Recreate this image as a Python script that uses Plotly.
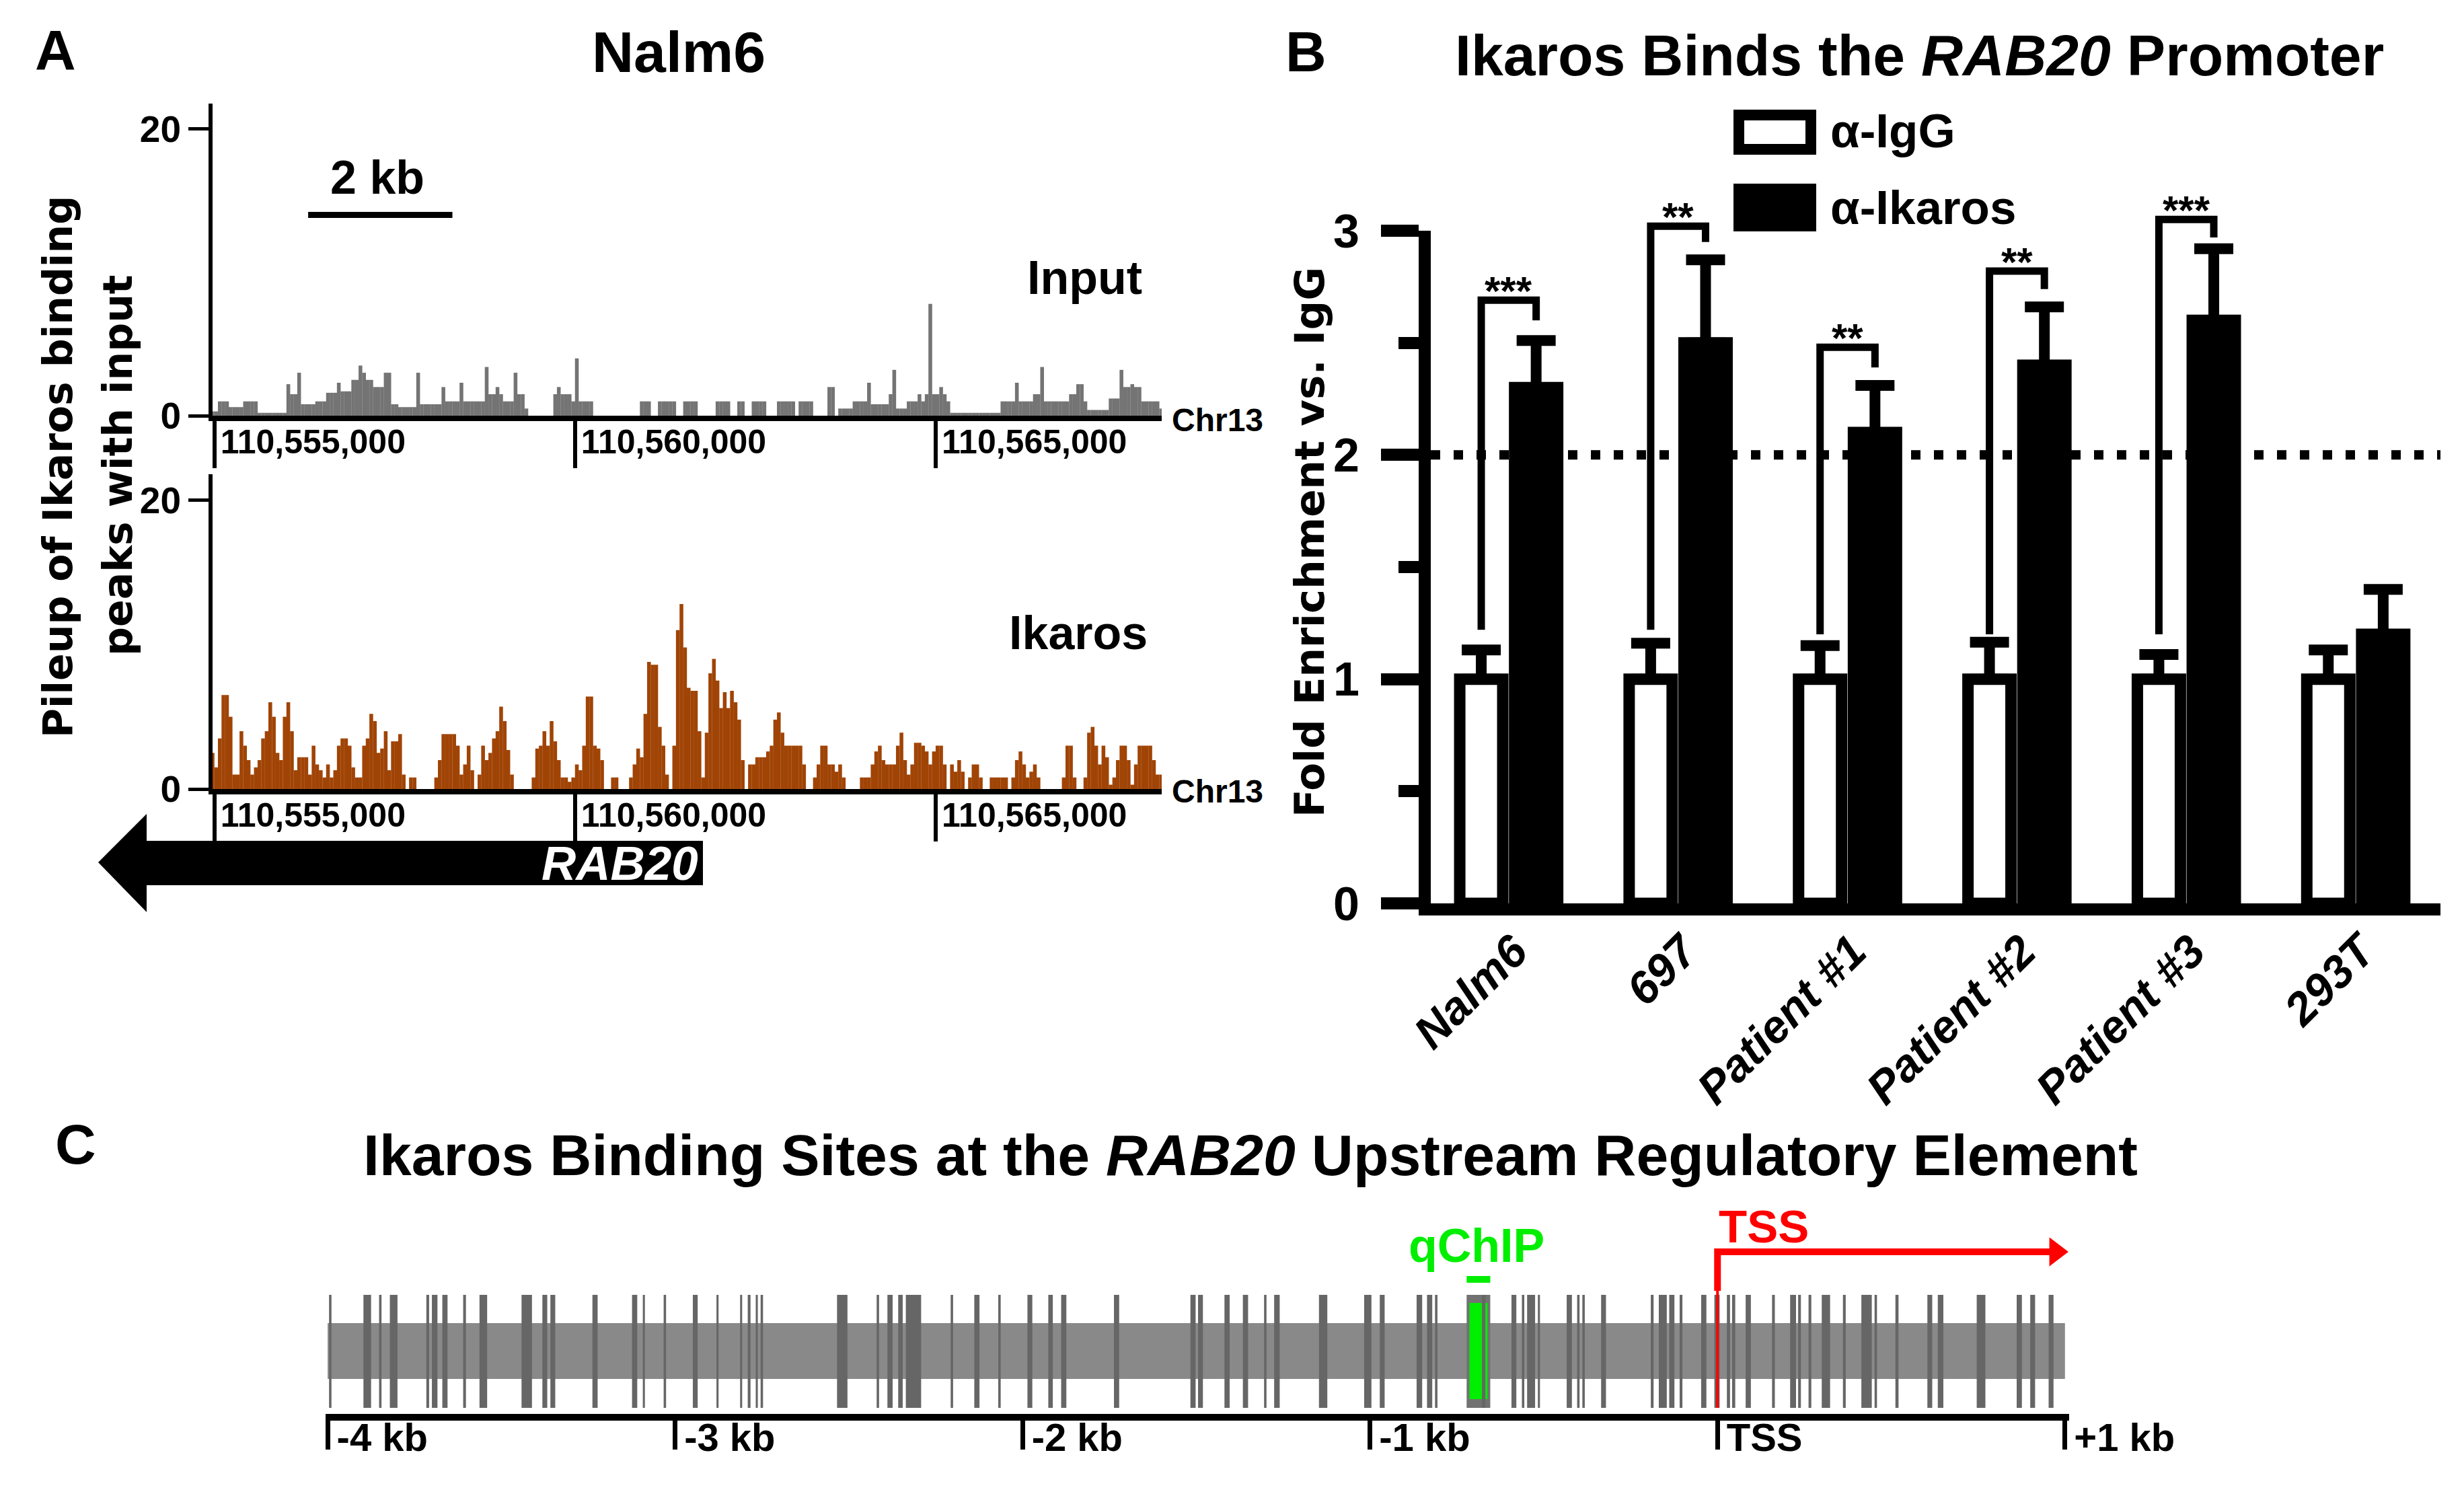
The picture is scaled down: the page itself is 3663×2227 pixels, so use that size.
import plotly.graph_objects as go

W, H = 3663, 2227
OFF = 8                      # default page body margin of the written html
FW, FH = W - 2 * OFF, H - 2 * OFF
def px(x): return (x - OFF) / FW
def py(y): return 1 - (y - OFF) / FH

FONT = "Liberation Sans"
WIDE = "DejaVu Sans"

# ---------------- Panel A : pileup tracks (50 bp bins) ----------------
TRACK_START = 110554950
BIN_BP = 50
TRACK_RANGE = [110554975, 110568133]
GENOME_TICKS = [110555000, 110560000, 110565000]
GENOME_TICK_TEXT = ["110,555,000", "110,560,000", "110,565,000"]
PILEUP_TICKS = [0, 20]
SCALE_BAR_BP = [110556300, 110558300]

INPUT_PILEUP = [
    0.3, 0.3, 1, 1, 1, 0.6, 0.6, 0.6, 0.6, 1,
    1, 1, 1, 0.2, 0.2, 0.2, 0.2, 0.2, 0.2, 0.2,
    0.2, 2.2, 1.5, 1.5, 3, 0.8, 0.8, 0.8, 0.8, 1,
    1, 1, 1.6, 1.6, 1.6, 2.3, 1.7, 1.7, 1.7, 2.5,
    2.5, 3.5, 3, 2.5, 2.5, 2, 2, 2, 3, 3,
    0.8, 0.8, 0.6, 0.6, 0.6, 0.6, 0.6, 3, 0.8, 0.8,
    0.8, 0.8, 0.8, 0.8, 2, 1, 1, 1, 1, 2.3,
    1, 1, 1, 1, 1, 1, 3.4, 1.5, 1.5, 2,
    1.5, 1, 1, 1, 3, 1.5, 1.5, 0.5, 0, 0,
    0, 0, 0, 0, 0, 1.5, 2, 1.5, 1.5, 1.5,
    1, 4, 1, 1, 1, 1, 0, 0, 0, 0,
    0, 0, 0, 0, 0, 0, 0, 0, 0, 1,
    1, 1, 0, 0, 1, 1, 1, 1, 1, 0,
    0, 1, 1, 1, 1, 0, 0, 0, 0, 0,
    1, 1, 1, 1, 0, 0, 1, 1, 0, 0,
    1, 1, 1, 1, 0, 0, 0, 1, 1, 1,
    1, 1, 0, 1, 1, 1, 1, 0, 0, 0,
    0, 2, 2, 0, 0.5, 0.5, 0.5, 0.5, 1, 1,
    1, 1, 2.3, 0.8, 0.8, 0.8, 0.8, 0.8, 1.5, 3.2,
    0.5, 0.5, 0.5, 1, 1, 1, 1.5, 1, 1.5, 7.8,
    1.5, 1.5, 2, 1.5, 1, 0.2, 0.2, 0.2, 0.2, 0.2,
    0.2, 0.2, 0.2, 0.2, 0.2, 0.2, 0.2, 0.2, 0.2, 1,
    1, 1, 1, 2.3, 1, 1, 1, 1, 1.5, 1.5,
    3.4, 1, 1, 1, 1, 1, 1, 1, 1.5, 1.5,
    2.2, 2.2, 1, 0.4, 0.4, 0.4, 0.4, 0.4, 0.4, 1.2,
    1.2, 1.2, 3.2, 2, 2, 2.2, 2, 2, 1, 1,
    1, 1, 1, 0.5,
]

IKAROS_PILEUP = [
    2.5, 1.5, 3.5, 6.5, 6.5, 5, 1, 1, 4, 3,
    2, 1, 1.5, 2, 3.5, 4, 6, 5, 2.5, 2,
    5, 6, 4, 1.3, 2.2, 2.2, 2.2, 1, 3, 1.7,
    1.3, 0.8, 1.7, 0.8, 1.3, 3, 3.5, 3.5, 3, 1.5,
    0.8, 0.8, 3, 3.5, 5.2, 4.7, 2.5, 2.8, 4, 1.3,
    3.3, 3.3, 3.8, 1, 0, 0.8, 0.8, 0, 0, 0,
    0, 0, 0.8, 2, 3.8, 3.8, 3.8, 3.8, 3, 1,
    1.7, 3, 1.3, 0, 1, 3, 2, 2.5, 3.5, 4,
    5.7, 4.7, 2.7, 1, 0, 0, 0, 0, 0, 0.8,
    2.8, 3, 4, 3, 4.7, 3.3, 2, 0.8, 0.8, 0.5,
    0.8, 1.7, 1.3, 3, 6.4, 6.4, 3, 2.8, 2, 0,
    0, 0.8, 0.8, 0, 0, 0, 0.8, 1.7, 2.8, 2.2,
    5.2, 8.8, 8.6, 8.6, 4.3, 3, 1, 0, 3, 11,
    12.8, 9.8, 7, 6.8, 6.8, 4, 0.8, 3.9, 8, 9,
    7.5, 5.6, 6.7, 5.6, 6.8, 6, 4.8, 2, 0, 1.7,
    1.7, 2.2, 2.2, 2.2, 2.6, 3, 4.8, 5.3, 3.9, 3,
    3, 3, 3, 3, 1.7, 0, 0, 0.8, 1.7, 3,
    3, 1.7, 1.7, 1.2, 1.7, 0.8, 0, 0, 0, 0,
    0.8, 0.8, 0.8, 1.7, 2.6, 3, 2, 1.7, 1.7, 1.7,
    3, 3.9, 2, 1, 1.7, 3.2, 3.2, 3, 2.6, 1.7,
    2.6, 3, 3, 1.7, 0, 1.7, 1.2, 2, 1.2, 0,
    0.8, 1.7, 1.7, 0.8, 0, 0, 0.8, 0.8, 0.8, 0.8,
    0.8, 0, 0.8, 2, 2.6, 1.7, 0.8, 1.2, 1.7, 0.8,
    0, 0, 0, 0, 0, 0, 0.8, 3, 3, 0.8,
    0, 0, 0.8, 3.9, 4.3, 3, 1.7, 3, 2.2, 0.3,
    0.8, 2, 3, 3, 2, 0.3, 1.7, 3, 3, 3,
    3, 2, 1, 1,
]

# ---------------- Panel B : qChIP ----------------
CELLS = ["Nalm6", "697", "Patient #1", "Patient #2", "Patient #3", "293T"]
IGG_MEAN = [1.0, 1.0, 1.0, 1.0, 1.0, 1.0]
IGG_ERR = [0.13, 0.16, 0.15, 0.165, 0.11, 0.13]
IKAROS_MEAN = [2.3, 2.5, 2.1, 2.4, 2.6, 1.2]
IKAROS_ERR = [0.21, 0.37, 0.21, 0.26, 0.32, 0.20]
SIG_LABELS = ["***", "**", "**", "**", "***", ""]
BRACKET_TOP = [2.69, 3.02, 2.48, 2.82, 3.05, None]
BRACKET_LEFT_END = [1.22, 1.22, 1.20, 1.20, 1.20, None]
BRACKET_RIGHT_END = [2.60, 2.95, 2.39, 2.74, 2.97, None]
THRESHOLD = 2.0

# ---------------- Panel C : binding sites (bp relative to TSS) ----------------
SITE_START = [-3996, -3897, -3852, -3821, -3716, -3700, -3670, -3610, -3563, -3442, -3382, -3359, -3238,
              -3124, -3093, -3033, -2949, -2881, -2813, -2791, -2768,
              -2754, -2534, -2420, -2389, -2358, -2336, -2207, -2139, -2070, -1986, -1926, -1889, -1737,
              -1517, -1495, -1419, -1366, -1305, -1276, -1147, -1017, -972, -866, -836, -813, -678,
              -593, -563, -548, -517, -434, -404, -389, -335,
              -192, -169, -139, -109, -47, -9, 27, 42, 81, 157, 209, 232, 262, 300, 361, 414, 452,
              512, 604, 634, 746, 861, 900, 953]
SITE_END = [-3989, -3875, -3845, -3799, -3708, -3684, -3655, -3602, -3541, -3412, -3368, -3345, -3223,
            -3109, -3087, -3026, -2935, -2875, -2807, -2783, -2762,
            -2747, -2504, -2413, -2374, -2345, -2292, -2200, -2124, -2063, -1972, -1913, -1874, -1722,
            -1502, -1481, -1404, -1351, -1298, -1260, -1123, -996, -958, -850, -821, -806, -668,
            -579, -556, -525, -511, -419, -397, -382, -321,
            -184, -146, -124, -101, -32, 6, 36, 51, 96, 165, 226, 240, 270, 324, 369, 444, 459,
            521, 618, 650, 771, 876, 914, 967]
REGION = [-4000, 1000]
QCHIP_AMPLICON = [-722, -654]
KB_TICKS = [-4000, -3000, -2000, -1000, 0, 1000]
KB_TICK_TEXT = ["-4 kb", "-3 kb", "-2 kb", "-1 kb", "TSS", "+1 kb"]

# =====================================================================
fig = go.Figure()

bin_centers = [TRACK_START + BIN_BP * (k + 0.5) for k in range(len(IKAROS_PILEUP))]
fig.add_trace(go.Bar(x=bin_centers, y=INPUT_PILEUP, width=BIN_BP * 1.04, marker=dict(color="#747474", line_width=0),
                     xaxis="x", yaxis="y", hoverinfo="skip"))
fig.add_trace(go.Bar(x=bin_centers, y=IKAROS_PILEUP, width=BIN_BP * 1.04, marker=dict(color="#A04406", line_width=0),
                     xaxis="x2", yaxis="y2", hoverinfo="skip"))

# Panel B bars
off = 0.162
bw = 0.254
fig.add_trace(go.Bar(x=[i - off for i in range(len(CELLS))], y=IGG_MEAN, width=bw,
                     marker=dict(color="white", line=dict(color="black", width=17)),
                     error_y=dict(type="data", symmetric=False, array=IGG_ERR, arrayminus=[0] * len(CELLS),
                                  color="black", thickness=16, width=29),
                     xaxis="x3", yaxis="y3", hoverinfo="skip"))
fig.add_trace(go.Bar(x=[i + off for i in range(len(CELLS))], y=IKAROS_MEAN, width=bw,
                     marker=dict(color="black", line=dict(color="black", width=17)),
                     error_y=dict(type="data", symmetric=False, array=IKAROS_ERR, arrayminus=[0] * len(CELLS),
                                  color="black", thickness=16, width=29),
                     xaxis="x3", yaxis="y3", hoverinfo="skip"))

# Panel C: band, qChIP box, sites
y_line0, y_line1 = 0.03, 0.59
y_band0, y_band1 = 0.173, 0.45
fig.add_trace(go.Bar(x=[(REGION[0] + REGION[1]) / 2], y=[y_band1 - y_band0], base=y_band0,
                     width=REGION[1] - REGION[0], marker=dict(color="#898989", line_width=0),
                     xaxis="x4", yaxis="y4", hoverinfo="skip"))
fig.add_trace(go.Bar(x=[(QCHIP_AMPLICON[0] + QCHIP_AMPLICON[1]) / 2], y=[y_line1 - y_line0], base=y_line0,
                     width=QCHIP_AMPLICON[1] - QCHIP_AMPLICON[0], marker=dict(color="#727272", line_width=0),
                     xaxis="x4", yaxis="y4", hoverinfo="skip"))
fig.add_trace(go.Bar(x=[(QCHIP_AMPLICON[0] + QCHIP_AMPLICON[1]) / 2], y=[0.55 - 0.073], base=0.073,
                     width=(QCHIP_AMPLICON[1] - QCHIP_AMPLICON[0]) - 16, marker=dict(color="#00EE00", line_width=0),
                     xaxis="x4", yaxis="y4", hoverinfo="skip"))
fig.add_trace(go.Bar(x=[(s + e) / 2 for s, e in zip(SITE_START, SITE_END)], y=[y_line1 - y_line0] * len(SITE_START),
                     base=y_line0, width=[e - s for s, e in zip(SITE_START, SITE_END)],
                     marker=dict(color="#666666", line_width=0), xaxis="x4", yaxis="y4", hoverinfo="skip"))

# ------------------ axes ------------------
track_x = dict(range=TRACK_RANGE, showline=True, linewidth=8, linecolor="black", ticks="outside",
               tickvals=GENOME_TICKS, ticktext=GENOME_TICK_TEXT, ticklen=70, tickwidth=6, tickcolor="black",
               ticklabelposition="outside right", ticklabelstandoff=-12, ticklabelshift=2,
               ticklabeloverflow="allow",
               tickfont=dict(family=FONT, size=50, color="black", weight="bold"),
               showgrid=False, zeroline=False, fixedrange=True)
track_y = dict(range=[0, 21.78], showline=True, linewidth=6, linecolor="black", ticks="outside",
               tickvals=PILEUP_TICKS, ticklen=30, tickwidth=5, tickcolor="black",
               tickfont=dict(family=FONT, size=55, color="black", weight="bold"),
               showgrid=False, zeroline=False)

Y3_BOTTOM, Y3_TOP = 1343, 343          # pixel rows of values 0 and 3
EXT_TOP = 260                          # taller twin axis used for brackets / stars
ext_range_top = 3 * (Y3_BOTTOM - EXT_TOP) / (Y3_BOTTOM - Y3_TOP)

layout = dict(
    width=FW, height=FH, margin=dict(l=0, r=0, t=0, b=0, autoexpand=False), paper_bgcolor="white",
    plot_bgcolor="rgba(0,0,0,0)",
    showlegend=False, barmode="overlay", font=dict(family=FONT, color="black"),
    xaxis=dict(domain=[px(316), px(1727)], anchor="y", **track_x),
    yaxis=dict(domain=[py(618), py(154)], anchor="x", **track_y),
    xaxis2=dict(domain=[px(316), px(1727)], anchor="y2", **track_x),
    yaxis2=dict(domain=[py(1173), py(705)], anchor="x2", **track_y),
    xaxis3=dict(domain=[px(2127), px(3628)], anchor="y3", range=[-0.46, 5.5], showline=True, linewidth=18,
                linecolor="black", ticks="", tickvals=list(range(len(CELLS))), ticktext=CELLS, tickangle=-45,
                ticklabelstandoff=-14, ticklabelshift=8,
                tickfont=dict(family=FONT, size=68, color="black", weight="bold", style="italic"),
                showgrid=False, zeroline=False),
    yaxis3=dict(domain=[py(Y3_BOTTOM), py(Y3_TOP)], anchor="x3", range=[0, 3], showline=True, linewidth=18,
                linecolor="black", ticks="outside", ticklen=56, tickwidth=18, tickcolor="black", dtick=1, tick0=0,
                ticklabelstandoff=18,
                tickfont=dict(family=FONT, size=70, color="black", weight="bold"),
                minor=dict(dtick=0.5, ticks="outside", ticklen=30, tickwidth=18, tickcolor="black", showgrid=False),
                showgrid=False, zeroline=False),
    yaxis5=dict(domain=[py(Y3_BOTTOM), py(EXT_TOP)], anchor="x3", range=[0, ext_range_top], visible=False,
                showgrid=False, zeroline=False),
    xaxis4=dict(domain=[px(484), px(3076)], anchor="y4", range=[-4006, 1012], showline=True, linewidth=10,
                linecolor="black", ticks="outside", ticklen=43, tickwidth=7, tickcolor="black",
                tickvals=KB_TICKS, ticktext=KB_TICK_TEXT, ticklabelposition="outside right",
                ticklabelstandoff=-25, ticklabelshift=5, ticklabeloverflow="allow",
                tickfont=dict(family=FONT, size=58, color="black", weight="bold"),
                showgrid=False, zeroline=False),
    yaxis4=dict(domain=[py(2102), py(1802)], anchor="x4", range=[0, 1], visible=False),
)
fig.update_layout(**layout)

# invisible helper trace so the taller x3/y5 subplot exists
fig.add_trace(go.Scatter(x=[0], y=[0], mode="markers", marker=dict(opacity=0), xaxis="x3", yaxis="y5",
                         hoverinfo="skip"))

shapes = []
# 2 kb scale bar
shapes.append(dict(type="line", xref="x", yref="paper", x0=SCALE_BAR_BP[0], x1=SCALE_BAR_BP[1],
                   y0=py(319.5), y1=py(319.5), line=dict(color="black", width=9)))
# RAB20 gene arrow (minus strand)
pts = [(146, 1282), (218, 1210), (218, 1250), (1045, 1250), (1045, 1316), (218, 1316), (218, 1356)]
path = "M " + " L ".join(f"{px(a):.5f},{py(b):.5f}" for a, b in pts) + " Z"
shapes.append(dict(type="path", xref="paper", yref="paper", path=path, fillcolor="black", line=dict(width=0)))

# Panel B threshold + brackets
shapes.append(dict(type="line", xref="x3", yref="y3", x0=-0.46, x1=5.5, y0=THRESHOLD, y1=THRESHOLD,
                   line=dict(color="black", width=14, dash="14px,20px"), layer="below"))
for i, lab in enumerate(SIG_LABELS):
    if not lab:
        continue
    xl, xr = i - off, i + off
    shapes.append(dict(type="path", xref="x3", yref="y5",
                       path=f"M {xl},{BRACKET_LEFT_END[i]} L {xl},{BRACKET_TOP[i]} L {xr},{BRACKET_TOP[i]} L {xr},{BRACKET_RIGHT_END[i]}",
                       line=dict(color="black", width=11)))
# legend boxes
shapes.append(dict(type="rect", xref="paper", yref="paper", x0=px(2585), x1=px(2692), y0=py(222), y1=py(171),
                   fillcolor="white", line=dict(color="black", width=16)))
shapes.append(dict(type="rect", xref="paper", yref="paper", x0=px(2577), x1=px(2700), y0=py(344), y1=py(273),
                   fillcolor="black", line=dict(width=0)))

# Panel C: qChIP marker, TSS arrow
shapes.append(dict(type="rect", xref="x4", yref="y4", x0=QCHIP_AMPLICON[0], x1=QCHIP_AMPLICON[1], y0=0.65, y1=0.683,
                   fillcolor="#00EE00", line=dict(width=0)))
shapes.append(dict(type="line", xref="x4", yref="y4", x0=0, x1=0, y0=y_line0, y1=0.615,
                   line=dict(color="#FF0000", width=4)))
shapes.append(dict(type="path", xref="x4", yref="y4", path="M 0,0.61 L 0,0.803 L 960,0.803",
                   line=dict(color="#FF0000", width=10)))
shapes.append(dict(type="path", xref="x4", yref="y4", path="M 955,0.875 L 1010,0.803 L 955,0.731 Z",
                   fillcolor="#FF0000", line=dict(width=0)))
fig.update_layout(shapes=shapes)

ann = []
def A(text, x, y, size, xanchor="center", yanchor="middle", color="black", family=FONT, angle=0, **kw):
    ann.append(dict(text=text, x=x, y=y, xref=kw.pop("xref", "paper"), yref=kw.pop("yref", "paper"),
                    xanchor=xanchor, yanchor=yanchor, showarrow=False, textangle=angle,
                    font=dict(family=family, size=size, color=color), **kw))

A("<b>A</b>", px(82), py(75), 84)
A("<b>Nalm6</b>", px(1009), py(77), 86)
A("<b>B</b>", px(1941), py(77), 84)
A("<b>Ikaros Binds the <i>RAB20</i> Promoter</b>", px(2853), py(82), 86)
A("<b>C</b>", px(112), py(1701), 84)
A("<b>Ikaros Binding Sites at the <i>RAB20</i> Upstream Regulatory Element</b>", px(1859), py(1717), 86)
A("<b>2 kb</b>", px(561), py(264), 70)
A("<b>Input</b>", px(1612), py(413), 70)
A("<b>Ikaros</b>", px(1603), py(941), 70)
A("<b>Chr13</b>", px(1740), py(624), 48, xanchor="left")
A("<b>Chr13</b>", px(1740), py(1176), 48, xanchor="left")
A("<b>Pileup of Ikaros binding</b>", px(86), py(694), 60, family=WIDE, angle=-90)
A("<b>peaks with input</b>", px(175), py(692), 60, family=WIDE, angle=-90)
A("<b><i>RAB20</i></b>", px(1040), py(1283), 71, xanchor="right", color="white")
A("<b>Fold Enrichment vs. IgG</b>", px(1946), py(806), 61, family=WIDE, angle=-90)
A("<b>α-IgG</b>", px(2719), py(194), 71, xanchor="left")
A("<b>α-Ikaros</b>", px(2719), py(308), 71, xanchor="left")
for i, lab in enumerate(SIG_LABELS):
    if lab:
        A(f"<b>{lab}</b>", i, BRACKET_TOP[i], 60, xref="x3", yref="y5", yshift=14)
A("<b>qChIP</b>", px(2195), py(1852), 70, color="#00EE00")
A("<b>TSS</b>", px(2553), py(1823), 69, xanchor="left", color="#FF0000")
fig.update_layout(annotations=ann)

fig.write_html("out.html")
